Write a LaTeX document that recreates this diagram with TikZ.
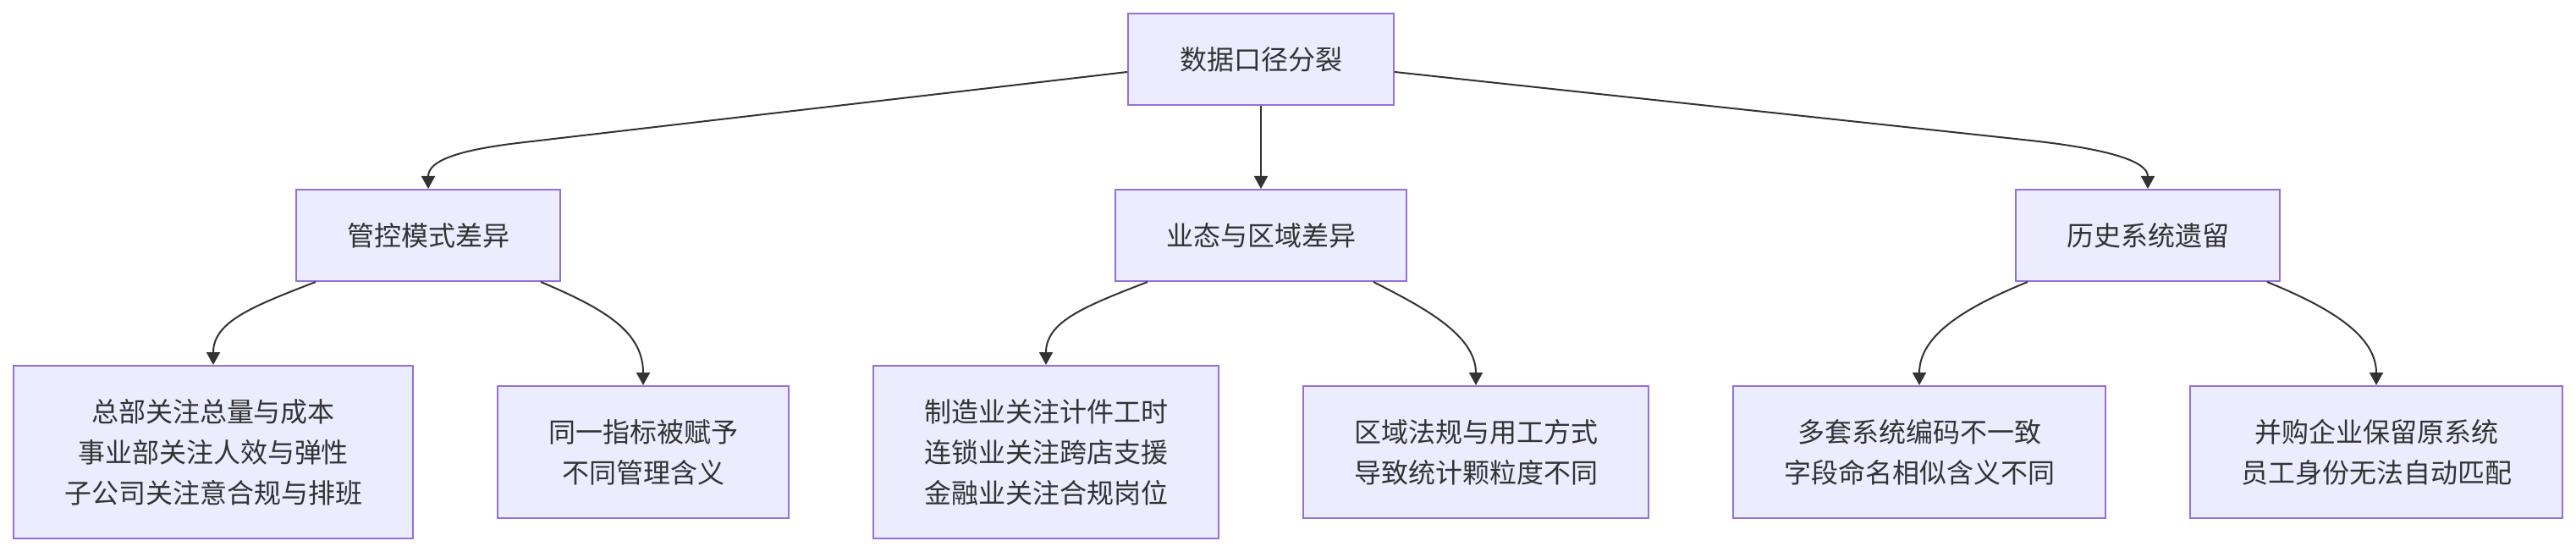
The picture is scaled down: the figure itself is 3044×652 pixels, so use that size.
\documentclass[tikz,border=0pt]{standalone}
\usepackage{fontspec}
\setmainfont{Noto Sans CJK SC}
\usetikzlibrary{arrows.meta}
\definecolor{boxfill}{HTML}{ECECFF}
\definecolor{boxline}{HTML}{9370DB}
\definecolor{ink}{HTML}{333333}
\tikzset{
  box/.style={draw=boxline, fill=boxfill, line width=2pt, inner sep=0pt,
    align=center, text=ink, font=\fontsize{32pt}{48pt}\selectfont},
  edge/.style={draw=ink, line width=2pt, -{Triangle[length=15pt,width=16pt]}}
}
\begin{document}
\begin{tikzpicture}[x=1pt,y=-1pt]
\useasboundingbox[fill=white] (0,0) rectangle (3044,652);
% nodes
\node[box, minimum width=314pt, minimum height=108pt] (root) at (1490,70) {数据口径分裂};
\node[box, minimum width=312pt, minimum height=108pt] (gk) at (506,278) {管控模式差异};
\node[box, minimum width=344pt, minimum height=108pt] (yt) at (1490,278) {业态与区域差异};
\node[box, minimum width=312pt, minimum height=108pt] (ls) at (2538,278) {历史系统遗留};
\node[box, minimum width=472pt, minimum height=204pt] (a1) at (252,534) {总部关注总量与成本\\事业部关注人效与弹性\\子公司关注意合规与排班};
\node[box, minimum width=344pt, minimum height=156pt] (a2) at (760,534) {同一指标被赋予\\不同管理含义};
\node[box, minimum width=408pt, minimum height=204pt] (b1) at (1236,534) {制造业关注计件工时\\连锁业关注跨店支援\\金融业关注合规岗位};
\node[box, minimum width=408pt, minimum height=156pt] (b2) at (1744,534) {区域法规与用工方式\\导致统计颗粒度不同};
\node[box, minimum width=440pt, minimum height=156pt] (c1) at (2268,534) {多套系统编码不一致\\字段命名相似含义不同};
\node[box, minimum width=440pt, minimum height=156pt] (c2) at (2808,534) {并购企业保留原系统\\员工身份无法自动匹配};
% root edges
\draw[edge] ([yshift=-15pt]root.west) -- (620,168) .. controls (540,177) and (506,190) .. (gk.north);
\draw[edge] (root.south) -- (yt.north);
\draw[edge] ([yshift=-15pt]root.east) -- (2400,166) .. controls (2490,176) and (2538,190) .. (ls.north);
% second level edges
\draw[edge] ([xshift=-133pt]gk.south) .. controls (298,362) and (252,380) .. (a1.north);
\draw[edge] ([xshift=133pt]gk.south) .. controls (715,365) and (760,392) .. (a2.north);
\draw[edge] ([xshift=-134pt]yt.south) .. controls (1281,362) and (1236,380) .. (b1.north);
\draw[edge] ([xshift=133pt]yt.south) .. controls (1680,362) and (1744,395) .. (b2.north);
\draw[edge] ([xshift=-142pt]ls.south) .. controls (2325,362) and (2268,395) .. (c1.north);
\draw[edge] ([xshift=141pt]ls.south) .. controls (2750,362) and (2808,395) .. (c2.north);
\end{tikzpicture}
\end{document}
